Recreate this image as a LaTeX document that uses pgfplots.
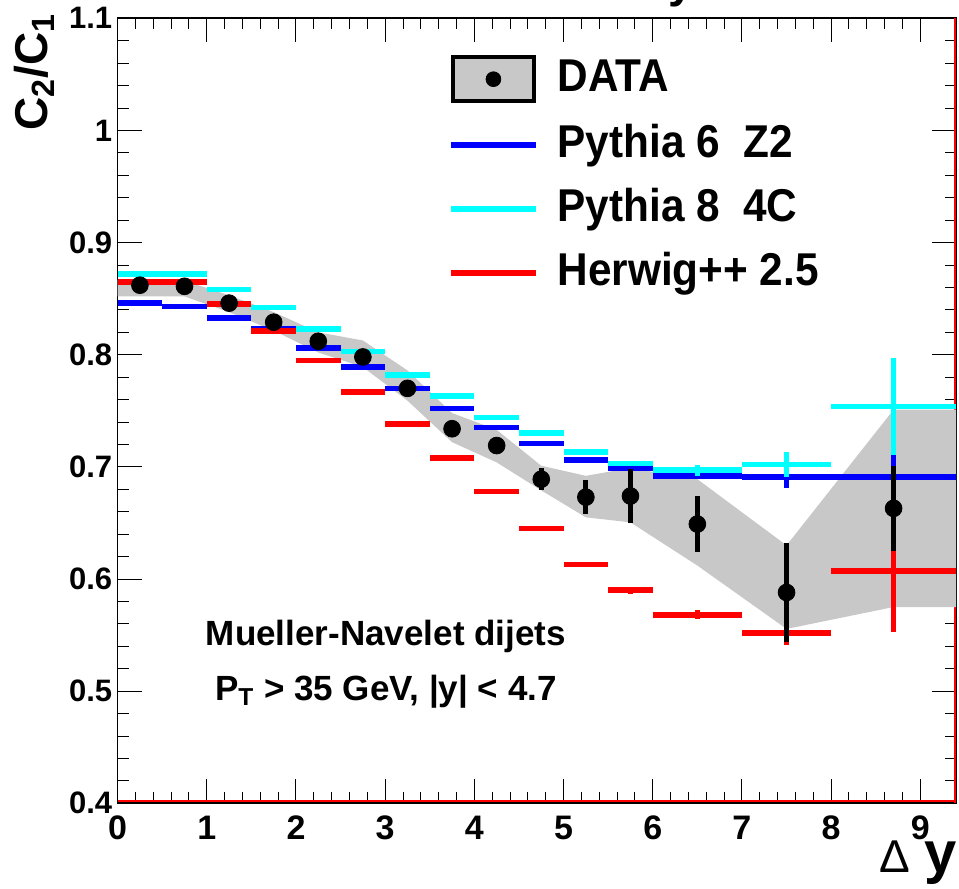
\documentclass[border=0pt]{standalone}
\usepackage{fontspec}
\setmainfont{Liberation Sans}
\newfontfamily\legfont{Liberation Sans}[FakeStretch=0.92]
\usepackage{pgfplots}
\usepackage{pgfplotstable}
\pgfplotsset{compat=1.18}
\definecolor{bandgray}{RGB}{200,200,200}
\definecolor{rootblue}{RGB}{0,0,255}
\definecolor{rootcyan}{RGB}{0,255,255}
\definecolor{rootred}{RGB}{255,0,0}

\pgfplotstableread{
x ex y ey
0.25 0.25 0.846 0
0.75 0.25 0.843 0
1.25 0.25 0.833 0
1.75 0.25 0.823 0
2.25 0.25 0.806 0
2.75 0.25 0.789 0
3.25 0.25 0.770 0
3.75 0.25 0.752 0
4.25 0.25 0.735 0
4.75 0.25 0.721 0
5.25 0.25 0.706 0
5.75 0.25 0.699 0
6.5 0.5 0.692 0.003
7.5 0.5 0.691 0.010
8.7 0.7 0.691 0.020
}\pythiasix

\pgfplotstableread{
x ex y ey
0.25 0.25 0.872 0
0.75 0.25 0.872 0
1.25 0.25 0.858 0
1.75 0.25 0.842 0
2.25 0.25 0.823 0
2.75 0.25 0.803 0
3.25 0.25 0.782 0
3.75 0.25 0.763 0
4.25 0.25 0.744 0
4.75 0.25 0.730 0
5.25 0.25 0.713 0
5.75 0.25 0.703 0.002
6.5 0.5 0.697 0.005
7.5 0.5 0.702 0.011
8.7 0.7 0.754 0.043
}\pythiaeight

\pgfplotstableread{
x ex y ey
0.25 0.25 0.865 0
0.75 0.25 0.865 0
1.25 0.25 0.845 0
1.75 0.25 0.821 0
2.25 0.25 0.795 0
2.75 0.25 0.767 0
3.25 0.25 0.738 0
3.75 0.25 0.708 0
4.25 0.25 0.678 0
4.75 0.25 0.645 0
5.25 0.25 0.613 0
5.75 0.25 0.590 0.003
6.5 0.5 0.568 0.004
7.5 0.5 0.552 0.011
8.7 0.7 0.607 0.054
}\herwig

\pgfplotstableread{
x y ey
0.25 0.862 0.003
0.75 0.861 0.003
1.25 0.846 0.003
1.75 0.829 0.003
2.25 0.812 0.003
2.75 0.798 0.004
3.25 0.770 0.004
3.75 0.734 0.005
4.25 0.719 0.006
4.75 0.689 0.010
5.25 0.673 0.015
5.75 0.674 0.024
6.5 0.649 0.025
7.5 0.588 0.044
8.7 0.663 0.038
}\datatab

\begin{document}
\begin{tikzpicture}
\begin{axis}[
  scale only axis, width=419.2pt, height=392.5pt,
  xmin=0, xmax=9.4, ymin=0.4, ymax=1.1,
  xtick={0,1,...,9}, minor x tick num=4,
  ytick={0.4,0.5,0.6,0.7,0.8,0.9,1.0,1.1},
  yticklabels={0.4,0.5,0.6,0.7,0.8,0.9,1,1.1},
  minor y tick num=4,
  major tick length=12pt, minor tick length=5.5pt,
  tick align=inside,
  tick style={black, line width=0.5pt},
  axis line style={black, line width=0.8pt},
  /pgf/number format/assume math mode=true,
  xticklabel style={font=\bfseries\fontsize{17}{17}\selectfont, inner sep=0pt, anchor=north, yshift=-6pt},
  yticklabel style={font=\bfseries\fontsize{15.5}{15.5}\selectfont, inner sep=0pt, anchor=east, xshift=-2.5pt},
  clip mode=individual,
  legend cell align=left,
  legend style={draw=none, fill=none, at={(rel axis cs:0.394,0.953)}, anchor=north west,
    inner sep=0pt, outer sep=0pt, row sep=10pt,
    font=\legfont\bfseries\fontsize{23}{27}\selectfont,
    nodes={inner sep=0pt, text height=17pt, text depth=5pt},
    /tikz/every odd column/.append style={column sep=9.3pt}},
]
% red histogram frame lines
\draw[rootred, line width=1pt] ([yshift=0.9pt]rel axis cs:0,0) -- ([yshift=0.9pt]rel axis cs:1,0);
\draw[rootred, line width=1pt] ([xshift=-0.5pt]rel axis cs:1,0) -- ([xshift=-0.5pt]rel axis cs:1,1);

% systematic band
\addplot[fill=bandgray, draw=none, forget plot] coordinates {
(0,0.867) (0.25,0.867) (0.75,0.866) (1.25,0.853) (1.75,0.838) (2.25,0.820)
(2.75,0.8127) (3.25,0.786) (3.75,0.748) (4.25,0.733) (4.75,0.701) (5.25,0.692)
(5.75,0.699) (6.5,0.689) (7.5,0.630) (8.7,0.751) (9.4,0.751)
(9.4,0.575) (8.7,0.575) (7.5,0.5555) (6.5,0.612) (5.75,0.6505) (5.25,0.655)
(4.75,0.679) (4.25,0.704) (3.75,0.722) (3.25,0.759) (2.75,0.789) (2.25,0.802)
(1.75,0.8215) (1.25,0.838) (0.75,0.852) (0.25,0.852) (0,0.852)
} -- cycle;

\addplot[forget plot, draw=none, mark=none,
  error bars/.cd, x dir=both, x explicit, y dir=both, y explicit, error mark=none,
  error bar style={draw=rootblue, line width=2.8pt}]
  table[x=x, y=y, x error=ex, y error=ey] {\pythiasix};
\addplot[forget plot, draw=none, mark=none,
  error bars/.cd, x dir=both, x explicit, y dir=both, y explicit, error mark=none,
  error bar style={draw=rootcyan, line width=2.8pt}]
  table[x=x, y=y, x error=ex, y error=ey] {\pythiaeight};
\addplot[forget plot, draw=none, mark=none,
  error bars/.cd, x dir=both, x explicit, y dir=both, y explicit, error mark=none,
  error bar style={draw=rootred, line width=2.8pt}]
  table[x=x, y=y, x error=ex, y error=ey] {\herwig};
\addplot[forget plot, only marks, mark=*, mark size=4.2pt, black, mark options={fill=black},
  error bars/.cd, y dir=both, y explicit, error mark=none,
  error bar style={black, line width=2.5pt}]
  table[x=x, y=y, y error=ey] {\datatab};

\addlegendimage{legend image code/.code={\draw[fill=bandgray, line width=2pt] (1pt,-11pt) rectangle (41.5pt,11pt); \fill[black] (21.25pt,0pt) circle (3.7pt);}}
\addlegendentry{DATA}
\addlegendimage{legend image code/.code={\draw[rootblue, line width=3pt] (0pt,0pt) -- (42.5pt,0pt);}}
\addlegendentry{Pythia 6\ \ Z2}
\addlegendimage{legend image code/.code={\draw[rootcyan, line width=3pt] (0pt,0pt) -- (42.5pt,0pt);}}
\addlegendentry{Pythia 8\ \ 4C}
\addlegendimage{legend image code/.code={\draw[rootred, line width=3pt] (0pt,0pt) -- (42.5pt,0pt);}}
\addlegendentry{Herwig++ 2.5}

\node[anchor=base, inner sep=0pt, font=\bfseries\fontsize{17.5}{20}\selectfont] at (axis cs:3.008,0.541) {Mueller-Navelet dijets};
\node[anchor=base, inner sep=0pt, font=\bfseries\fontsize{17.5}{20}\selectfont] at (axis cs:3.008,0.4915) {P\textsubscript{T} > 35 GeV, |y| < 4.7};
\end{axis}
\node[rotate=90, anchor=base east, inner sep=0pt, font=\bfseries\fontsize{23}{23}\selectfont] at ([xshift=-35.3pt, yshift=2.5pt]current axis.north west) {C\textsubscript{2}/C\textsubscript{1}};
\node[anchor=base east, inner sep=0pt] at ([xshift=0.5pt, yshift=-34.85pt]current axis.south east) {{\fontsize{23}{23}\selectfont Δ}\hspace{7pt}{\bfseries\fontsize{29}{29}\selectfont y}};
\node[anchor=base, inner sep=0pt, font=\bfseries\fontsize{23}{23}\selectfont] at ([xshift=282pt, yshift=10.5pt]current axis.north west) {y};
\pgfresetboundingbox
\path ([xshift=-58.8pt, yshift=-42.85pt]current axis.south west) rectangle ([xshift=1.5pt, yshift=9.15pt]current axis.north east);
\end{tikzpicture}
\end{document}
